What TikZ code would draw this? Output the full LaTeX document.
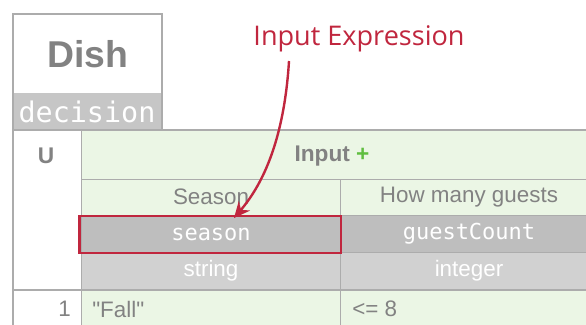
\documentclass[tikz,border=0pt]{standalone}
\usepackage{fontspec}
\setmainfont{Liberation Sans}
\setmonofont{DejaVu Sans Mono}
\newfontfamily\calloutfont{Open Sans}
\newfontfamily\cellfont{Liberation Sans}
\usepackage{tikz}
\usetikzlibrary{arrows.meta}
\usepackage{color}

\definecolor{cellgreen}{RGB}{235,246,229}
\definecolor{namegray}{RGB}{190,190,190}
\definecolor{typegray}{RGB}{209,209,209}
\definecolor{bandgray}{RGB}{198,198,198}
\definecolor{linegray}{RGB}{172,172,172}
\definecolor{textgray}{RGB}{130,130,130}
\definecolor{plusgreen}{RGB}{96,190,64}
\definecolor{markred}{RGB}{192,38,62}

\begin{document}
\begin{tikzpicture}[x=0.75pt,y=0.75pt,yscale=-1,xscale=1]
\clip (0,0) rectangle (586,325); %set diagram size 586 x 325

%Shape: Dish box
\draw [draw=linegray, fill=white, line width=1.1] (13,14) rectangle (162,130) ;
%Shape: decision band
\draw [draw=none, fill=bandgray] (14,93) rectangle (161,130) ;

%Shape: header cells
\draw [draw=linegray, fill=white, line width=0.75] (13,130) rectangle (81,290) ;
\draw [draw=linegray, fill=cellgreen, line width=0.75] (81,130) rectangle (600,179) ;
%Shape: label cells
\draw [draw=linegray, fill=cellgreen, line width=0.75] (81,179) rectangle (340,215) ;
\draw [draw=linegray, fill=cellgreen, line width=0.75] (340,179) rectangle (600,215) ;
%Shape: expression cells
\draw [draw=linegray, fill=namegray, line width=0.75] (81,215) rectangle (340,252) ;
\draw [draw=linegray, fill=namegray, line width=0.75] (340,215) rectangle (600,252) ;
%Shape: type cells
\draw [draw=linegray, fill=typegray, line width=0.75] (81,252) rectangle (340,289) ;
\draw [draw=linegray, fill=typegray, line width=0.75] (340,252) rectangle (600,289) ;
%Shape: rule 1 cells
\draw [draw=linegray, fill=white, line width=0.75] (13,290) rectangle (81,340) ;
\draw [draw=linegray, fill=cellgreen, line width=0.75] (81,290) rectangle (340,340) ;
\draw [draw=linegray, fill=cellgreen, line width=0.75] (340,290) rectangle (600,340) ;

%Straight Lines: table frame
\draw [color=linegray, line width=1.5] (13,340) -- (13,130) -- (600,130) ;
\draw [color=linegray, line width=1.5] (13,290) -- (600,290) ;

%Shape: highlight of the input expression
\draw [color=markred, line width=1.6] (79.5,216) rectangle (341,253) ;
\coordinate (tail) at (289,61) ;
\coordinate (tip) at (234,218) ;

% Text Node
\draw (88,54) node [inner sep=0.75pt, color=textgray] (dish) {\fontsize{28}{32}\selectfont\bfseries Dish};
% Text Node
\draw (87,111.5) node [inner sep=0.75pt, color=white] (kind) {\fontsize{21.3}{26}\selectfont\ttfamily decision};
% Text Node
\draw (46,156) node [inner sep=0.75pt, color=textgray] (policy) {\fontsize{17}{20}\selectfont\bfseries U};
% Text Node
\draw (332,156) node [inner sep=0.75pt, color=textgray] (input) {\fontsize{17}{20}\selectfont\bfseries Input \textcolor{plusgreen}{+}};
% Text Node
\draw (211,197) node [inner sep=0.75pt, color=textgray] (seasonlabel) {\fontsize{16.8}{20}\selectfont Season};
% Text Node
\draw (469,197) node [inner sep=0.75pt, color=textgray] (guestslabel) {\fontsize{16.8}{20}\selectfont How many guests};
% Text Node
\draw (211,234) node [inner sep=0.75pt, color=white] (season) {\fontsize{16.5}{20}\selectfont\ttfamily season};
% Text Node
\draw (469,234) node [inner sep=0.75pt, color=white] (guestcount) {\fontsize{16.5}{20}\selectfont\ttfamily guestCount};
% Text Node
\draw (211,271) node [inner sep=0.75pt, color=white] (seasontype) {\fontsize{16.8}{20}\selectfont string};
% Text Node
\draw (469,271) node [inner sep=0.75pt, color=white] (gueststype) {\fontsize{16.8}{20}\selectfont integer};
% Text Node
\draw (72,309) node [anchor=east][inner sep=0.75pt, color=textgray] (rulenr) {\fontsize{16.8}{20}\selectfont 1};
% Text Node
\draw (91,309) node [anchor=west][inner sep=0.75pt, color=textgray] (fall) {\fontsize{16.8}{20}\selectfont\cellfont "Fall"};
% Text Node
\draw (351,309) node [anchor=west][inner sep=0.75pt, color=textgray] (upto) {\fontsize{16.8}{20}\selectfont <= 8};
% Text Node
\draw (359,39) node [inner sep=0.75pt, color=markred] (callout) {\fontsize{20.3}{24}\selectfont\calloutfont Input Expression};

%Curve Lines: callout arrow
\draw [color=markred, line width=1.8, -{Stealth[length=12pt,width=11pt]}] (tail) .. controls (286,110) and (275,170) .. (tip) ;

\end{tikzpicture}
\end{document}
